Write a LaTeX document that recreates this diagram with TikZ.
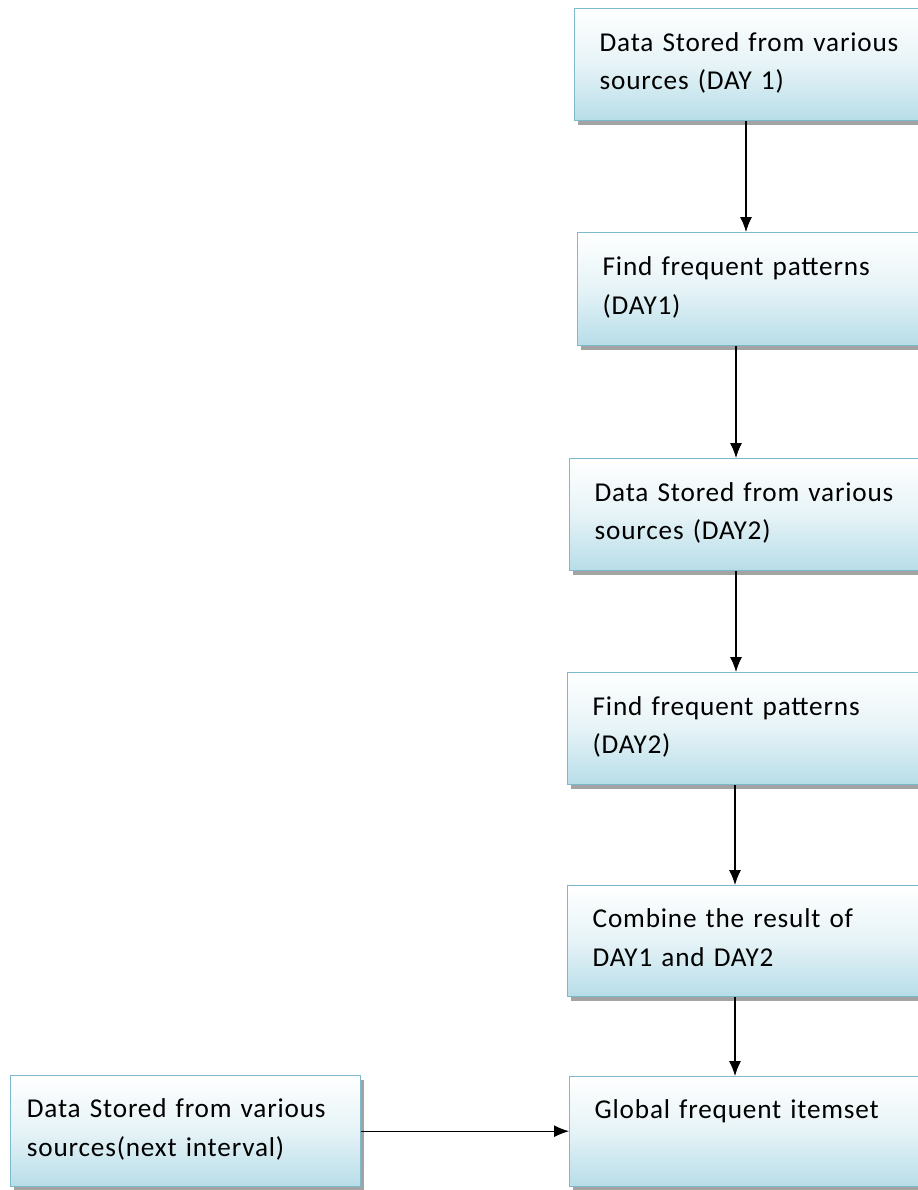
\documentclass[tikz,border=0pt]{standalone}
\usepackage{fontspec}
\setmainfont{Carlito}[LetterSpace=3, WordSpace=0.55]
\usetikzlibrary{arrows.meta,shadows}
\definecolor{boxline}{RGB}{125,185,205}
\definecolor{boxfill}{RGB}{183,221,232}
\definecolor{boxshadow}{RGB}{140,140,140}
\tikzset{
  stage/.style = {rectangle, draw=boxline, line width=0.8pt,
                  top color=white, bottom color=boxfill, middle color=boxfill!35,
                  drop shadow={shadow xshift=0.06cm, shadow yshift=-0.08cm,
                               fill=boxshadow, opacity=0.8},
                  anchor=north west, minimum width=7.4cm, minimum height=2.24cm,
                  text width=6.4cm, align=left, inner xsep=0.32cm, text depth=26pt,
                  font=\fontsize{15.5}{22}\selectfont},
  flow/.style  = {-{Latex[length=0.3cm,width=0.24cm]}, line width=0.6pt},
}
\begin{document}
\begin{tikzpicture}[x=0.02cm, y=-0.02cm]
  \useasboundingbox (0,0) rectangle (918,1190);
  \clip (0,0) rectangle (918,1190);

  \node[stage] (b1) at (574,8)   {Data Stored from various\\sources (DAY 1)};
  \node[stage, minimum height=2.26cm] (b2) at (577,232) {Find frequent patterns\\(DAY1)};
  \node[stage] (b3) at (569,458) {Data Stored from various\\sources (DAY2)};
  \node[stage] (b4) at (567,672) {Find frequent patterns\\(DAY2)};
  \node[stage, minimum height=2.22cm] (b5) at (567,885) {Combine the result of\\DAY1 and DAY2};
  \node[stage, minimum height=2.2cm] (b6) at (569,1076) {Global frequent itemset\\\strut};
  \node[stage, text width=6.35cm, minimum width=7cm, minimum height=2.22cm] (nx) at (10,1075)
        {Data Stored from various\\sources(next interval)};

  % arrow columns
  \coordinate (c1) at (746,0);
  \coordinate (c2) at (736,0);
  \coordinate (c3) at (735,0);

  \draw[flow] (b1.south -| c1) -- (b2.north -| c1);
  \draw[flow] (b2.south -| c2) -- (b3.north -| c2);
  \draw[flow] (b3.south -| c2) -- (b4.north -| c2);
  \draw[flow] (b4.south -| c3) -- (b5.north -| c3);
  \draw[flow] (b5.south -| c3) -- (b6.north -| c3);
  \draw[flow] (nx.east) -- (b6.west |- nx.east);
\end{tikzpicture}
\end{document}
